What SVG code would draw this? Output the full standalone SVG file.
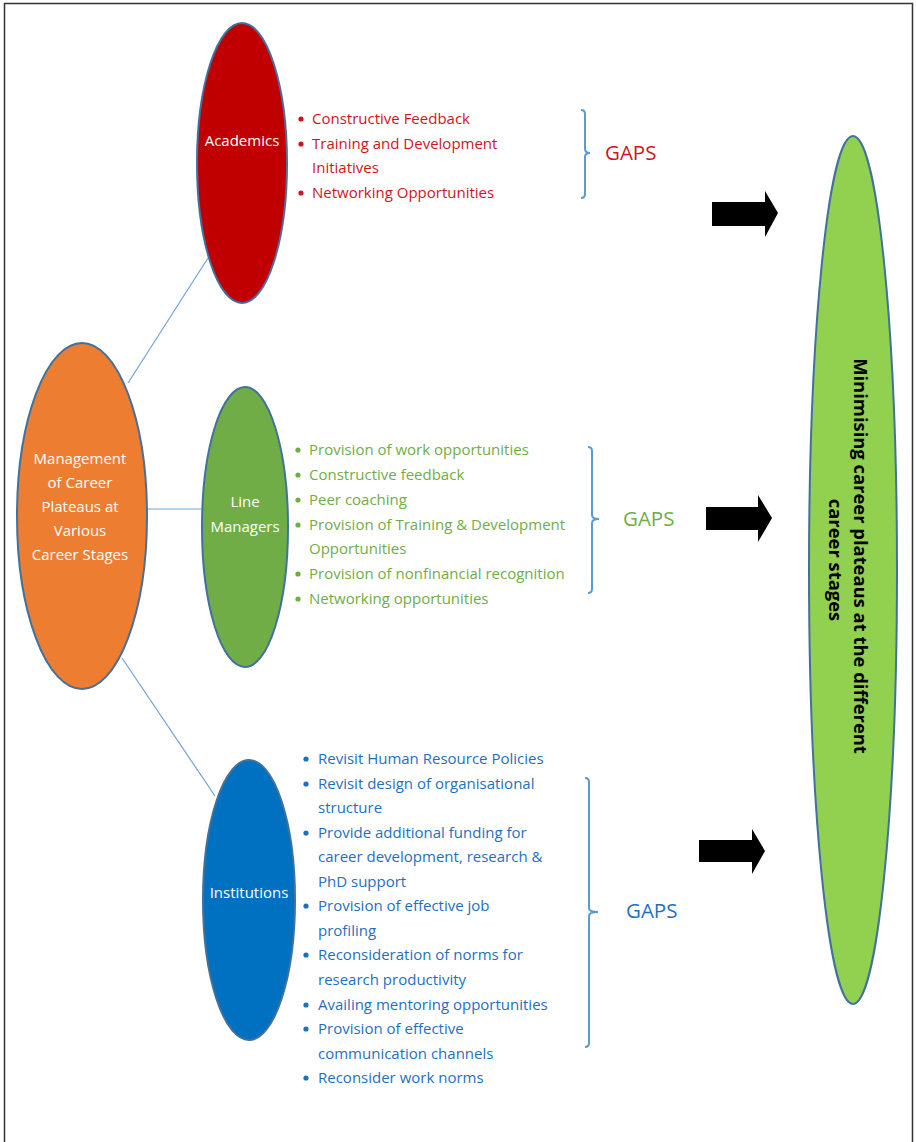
<svg xmlns="http://www.w3.org/2000/svg" width="916" height="1142" viewBox="0 0 916 1142">
<style>
.t{font-family:"Open Sans","Liberation Sans",sans-serif;font-size:15px}
.w{fill:#fff;text-anchor:middle}
.red{fill:#D0141E}
.grn{fill:#70AD47}
.blu{fill:#1F6FBF}
.gaps{font-family:"Open Sans","Liberation Sans",sans-serif;font-size:20.5px}
.ell{stroke:#41719C;stroke-width:2}
.con{stroke:#6FA3DA;stroke-width:1.2;fill:none}
.br{stroke:#5B9BD5;stroke-width:2;fill:none}
.v{font-family:"Open Sans","Liberation Sans",sans-serif;font-size:18.4px;font-weight:bold;fill:#000;text-anchor:middle}
</style>
<rect width="916" height="1142" fill="#fff"/>
<path d="M4.5,1142 V3.5 H912.5 V1142" fill="none" stroke="#333" stroke-width="1.5"/>
<g id="connectors">
<line class="con" x1="128" y1="383" x2="208" y2="258"/>
<line class="con" x1="148" y1="509" x2="201" y2="509"/>
<line class="con" x1="122" y1="658" x2="215" y2="796"/>
</g>
<g id="management">
<ellipse class="ell" cx="82" cy="516" rx="65" ry="173" fill="#ED7D31"/>
<text class="t w" x="80" y="464">Management</text>
<text class="t w" x="80" y="488">of Career</text>
<text class="t w" x="80" y="512">Plateaus at</text>
<text class="t w" x="80" y="536">Various</text>
<text class="t w" x="80" y="560">Career Stages</text>
</g>
<g id="academics">
<ellipse class="ell" cx="242" cy="163" rx="45" ry="140" fill="#C00000"/>
<text class="t w" x="242" y="146">Academics</text>
</g>
<g id="academics-items" class="t red">
<circle cx="301" cy="119" r="2.6" fill="#D0141E"/>
<circle cx="301" cy="144" r="2.6" fill="#D0141E"/>
<circle cx="301" cy="193" r="2.6" fill="#D0141E"/>
<text x="312" y="124">Constructive Feedback</text>
<text x="312" y="149">Training and Development</text>
<text x="312" y="173">Initiatives</text>
<text x="312" y="198">Networking Opportunities</text>
</g>
<g id="gaps-academics">
<path class="br" d="M581,110 Q585,110 585,114 V149 Q585,153 590,153 Q585,153 585,157 V194 Q585,198 581,198"/>
<text class="gaps red" x="605" y="160">GAPS</text>
</g>
<g id="line-managers">
<ellipse class="ell" cx="245" cy="527" rx="43" ry="140" fill="#70AD47"/>
<text class="t w" x="245" y="507">Line</text>
<text class="t w" x="245" y="532">Managers</text>
</g>
<g id="line-managers-items" class="t grn">
<circle cx="298" cy="450" r="2.6" fill="#70AD47"/>
<circle cx="298" cy="475" r="2.6" fill="#70AD47"/>
<circle cx="298" cy="500" r="2.6" fill="#70AD47"/>
<circle cx="298" cy="525" r="2.6" fill="#70AD47"/>
<circle cx="298" cy="574" r="2.6" fill="#70AD47"/>
<circle cx="298" cy="599" r="2.6" fill="#70AD47"/>
<text x="309" y="455">Provision of work opportunities</text>
<text x="309" y="480">Constructive feedback</text>
<text x="309" y="505">Peer coaching</text>
<text x="309" y="530">Provision of Training &amp; Development</text>
<text x="309" y="554">Opportunities</text>
<text x="309" y="579">Provision of nonfinancial recognition</text>
<text x="309" y="604">Networking opportunities</text>
</g>
<g id="gaps-line-managers">
<path class="br" d="M588,447 Q592,447 592,451 V515 Q592,519 599,519 Q592,519 592,523 V589 Q592,593 588,593"/>
<text class="gaps grn" x="623" y="526">GAPS</text>
</g>
<g id="institutions">
<ellipse class="ell" cx="249" cy="900" rx="46" ry="140" fill="#0070C0"/>
<text class="t w" x="249" y="898">Institutions</text>
</g>
<g id="institutions-items" class="t blu">
<circle cx="306" cy="759" r="2.6" fill="#1F6FBF"/>
<circle cx="306" cy="784" r="2.6" fill="#1F6FBF"/>
<circle cx="306" cy="833" r="2.6" fill="#1F6FBF"/>
<circle cx="306" cy="906" r="2.6" fill="#1F6FBF"/>
<circle cx="306" cy="955" r="2.6" fill="#1F6FBF"/>
<circle cx="306" cy="1005" r="2.6" fill="#1F6FBF"/>
<circle cx="306" cy="1029" r="2.6" fill="#1F6FBF"/>
<circle cx="306" cy="1078" r="2.6" fill="#1F6FBF"/>
<text x="318" y="764">Revisit Human Resource Policies</text>
<text x="318" y="789">Revisit design of organisational</text>
<text x="318" y="813">structure</text>
<text x="318" y="838">Provide additional funding for</text>
<text x="318" y="862">career development, research &amp;</text>
<text x="318" y="887">PhD support</text>
<text x="318" y="911">Provision of effective job</text>
<text x="318" y="936">profiling</text>
<text x="318" y="960">Reconsideration of norms for</text>
<text x="318" y="985">research productivity</text>
<text x="318" y="1010">Availing mentoring opportunities</text>
<text x="318" y="1034">Provision of effective</text>
<text x="318" y="1059">communication channels</text>
<text x="318" y="1083">Reconsider work norms</text>
</g>
<g id="gaps-institutions">
<path class="br" d="M585,778 Q589,778 589,782 V908 Q589,912 598,912 Q589,912 589,916 V1043 Q589,1047 585,1047"/>
<text class="gaps blu" x="626" y="918">GAPS</text>
</g>
<g id="arrows" fill="#000">
<path d="M712,202 H765 V191 L778,213 L765,237 V226 H712 Z"/>
<path d="M706,507 H758 V495 L772,518 L758,542 V530 H706 Z"/>
<path d="M699,840 H752 V829 L765,851 L752,874 V862 H699 Z"/>
</g>
<g id="outcome">
<ellipse class="ell" cx="853" cy="570" rx="44" ry="434" fill="#92D050"/>
<text class="v" transform="translate(854,556) rotate(90)">Minimising career plateaus at the different</text>
<text class="v" transform="translate(829,560) rotate(90)">career stages</text>
</g>
</svg>
